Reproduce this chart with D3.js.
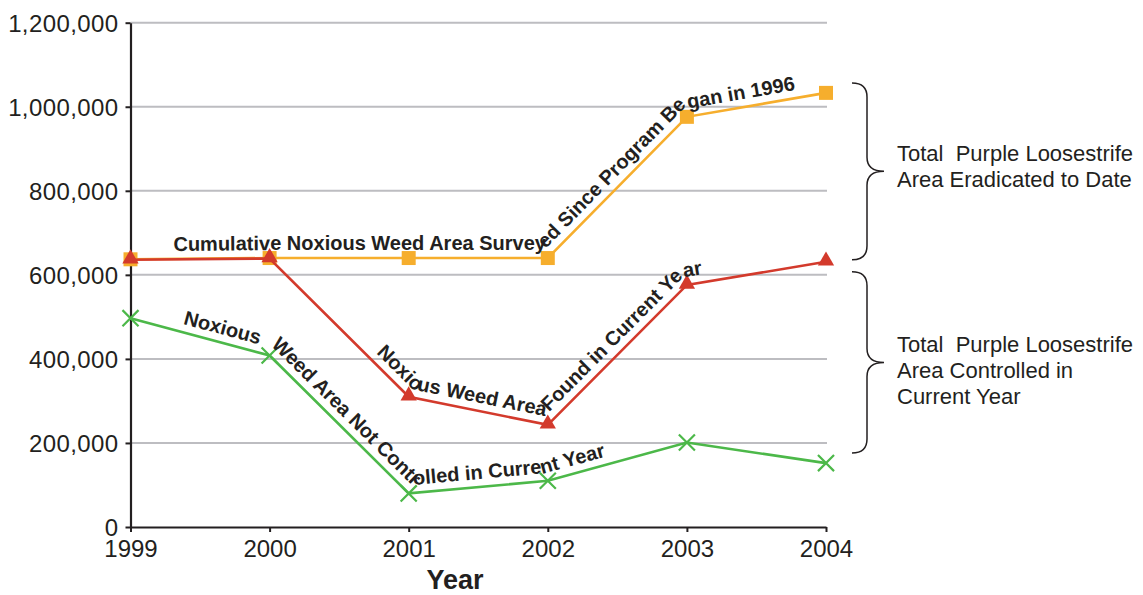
<!DOCTYPE html>
<html>
<head>
<meta charset="utf-8">
<script src="https://cdn.jsdelivr.net/npm/d3@7"></script>
<style>
  html, body { margin: 0; padding: 0; background: #fff; }
  svg { display: block; font-family: "Liberation Sans", Arial, Helvetica, sans-serif; }
</style>
</head>
<body>
<svg id="chart" width="1143" height="595"></svg>
<script>
// Survey years
const years = [1999, 2000, 2001, 2002, 2003, 2004];

// Cumulative noxious weed area surveyed since 1996
const surveyedCumulative = [637000, 640000, 640000, 640000, 976000, 1033000];
// Noxious weed area found in the current year
const foundCurrentYear = [636000, 639000, 310000, 243000, 576000, 631000];
// Noxious weed area not controlled in the current year
const notControlled = [497000, 408000, 80000, 110000, 201000, 152000];

const yTicks = [0, 200000, 400000, 600000, 800000, 1000000, 1200000];

const surveyedLabel = "Cumulative Noxious Weed Area Surveyed Since Program Began in 1996";
const foundLabel = "Noxious Weed Area Found in Current Year";
const notControlledLabel = "Noxious  Weed Area Not Controlled in Current Year";

const braceLabels = [
  ["Total  Purple Loosestrife", "Area Eradicated to Date"],
  ["Total  Purple Loosestrife", "Area Controlled in", "Current Year"]
];

const ink = "#231f20";
const colors = { surveyed: "#f6ae2d", found: "#d33a2c", notControlled: "#4cb849" };

const svg = d3.select("#chart");
svg.append("rect").attr("width", 1143).attr("height", 595).attr("fill", "#fff");

const x = d3.scaleLinear().domain([1999, 2004]).range([130.5, 826]);
const y = d3.scaleLinear().domain([0, 1200000]).range([527, 22.7]);

// Horizontal gridlines
svg.append("g")
  .selectAll("line")
  .data(yTicks.filter(d => d > 0))
  .join("line")
  .attr("x1", x(1999)).attr("x2", x(2004) + 1)
  .attr("y1", d => y(d)).attr("y2", d => y(d))
  .attr("stroke", "#bdbdc1").attr("stroke-width", 2);

// Axes
const yAxis = svg.append("g")
  .attr("transform", `translate(${x(1999)},0)`)
  .call(d3.axisLeft(y).tickValues(yTicks).tickSize(5).tickSizeOuter(0).tickPadding(7)
    .tickFormat(d3.format(",")));
const xAxis = svg.append("g")
  .attr("transform", `translate(0,${y(0)})`)
  .call(d3.axisBottom(x).tickValues(years).tickSize(5).tickSizeOuter(0).tickPadding(8)
    .tickFormat(d3.format("d")));

[yAxis, xAxis].forEach(g => {
  g.select(".domain").attr("stroke", ink).attr("stroke-width", 2.2);
  g.selectAll(".tick line").attr("stroke", ink).attr("stroke-width", 2);
  g.selectAll(".tick text").attr("fill", ink).style("font-size", "24px")
    .style("font-family", "'Liberation Sans', Arial, sans-serif");
});
yAxis.selectAll(".tick text").attr("dy", "0.36em").style("letter-spacing", "0.4px");

svg.append("text")
  .attr("x", 455).attr("y", 589)
  .attr("text-anchor", "middle")
  .attr("fill", ink)
  .style("font-size", "27px").style("font-weight", "bold")
  .text("Year");

// Series lines with markers
const pts = values => values.map((v, i) => [x(years[i]), y(v)]);

// Polyline shifted to the upper side of each segment, mitred at the joints,
// used as the baseline for the labels that run along each line.
function offsetPolyline(points, d) {
  const normals = [];
  for (let i = 0; i < points.length - 1; i++) {
    const dx = points[i + 1][0] - points[i][0], dy = points[i + 1][1] - points[i][1];
    const len = Math.hypot(dx, dy);
    normals.push([dy / len, -dx / len]);
  }
  return points.map((p, i) => {
    if (i === 0) return [p[0] + d * normals[0][0], p[1] + d * normals[0][1]];
    if (i === points.length - 1) {
      const n = normals[normals.length - 1];
      return [p[0] + d * n[0], p[1] + d * n[1]];
    }
    const a = normals[i - 1], b = normals[i];
    const k = d / (1 + a[0] * b[0] + a[1] * b[1]);
    return [p[0] + k * (a[0] + b[0]), p[1] + k * (a[1] + b[1])];
  });
}

const series = [
  { id: "surveyed", values: surveyedCumulative, color: colors.surveyed, marker: "square",
    label: surveyedLabel, offset: 43 },
  { id: "found", values: foundCurrentYear, color: colors.found, marker: "triangle",
    label: foundLabel, offset: 288 },
  { id: "notControlled", values: notControlled, color: colors.notControlled, marker: "cross",
    label: notControlledLabel, offset: 52 }
];

const line = d3.line();

series.forEach(s => {
  svg.append("path")
    .attr("d", line(pts(s.values)))
    .attr("fill", "none")
    .attr("stroke", s.color)
    .attr("stroke-width", 2.6);

  const symbolType = s.marker === "square" ? d3.symbolSquare
    : s.marker === "triangle" ? d3.symbolTriangle : d3.symbolX;
  const size = s.marker === "square" ? 196 : s.marker === "triangle" ? 115 : 170;
  svg.append("g")
    .selectAll("path")
    .data(s.values)
    .join("path")
    .attr("transform", (d, i) => `translate(${x(years[i])},${y(d) + (s.marker === "triangle" ? -1 : 0)})`)
    .attr("d", d3.symbol().type(symbolType).size(size))
    .attr("fill", s.marker === "cross" ? "none" : s.color)
    .attr("stroke", s.marker === "cross" ? s.color : "none")
    .attr("stroke-width", 2.2);

  svg.append("path")
    .attr("id", "label-path-" + s.id)
    .attr("d", line(offsetPolyline(pts(s.values), 8)))
    .attr("fill", "none")
    .attr("stroke", "none");
});

series.forEach(s => {
  svg.append("text")
    .attr("fill", ink)
    .style("font-size", "20px").style("font-weight", "bold")
    .style("white-space", "pre")
    .append("textPath")
    .attr("href", "#label-path-" + s.id)
    .attr("startOffset", s.offset)
    .text(s.label);
});

// Braces summarising the differences in the final year
const last = years.length - 1;
const braces = [
  { top: y(surveyedCumulative[last]) - 10, bottom: y(foundCurrentYear[last]) - 2, lines: braceLabels[0] },
  { top: y(foundCurrentYear[last]) + 10, bottom: y(notControlled[last]) - 10, lines: braceLabels[1] }
];

const xl = 852, xb = 867, xt = 884, r = 14;
braces.forEach(b => {
  const m = (b.top + b.bottom) / 2;
  const p = d3.path();
  p.moveTo(xl, b.top);
  p.quadraticCurveTo(xb, b.top, xb, b.top + r);
  p.lineTo(xb, m - r);
  p.quadraticCurveTo(xb, m, xt, m);
  p.quadraticCurveTo(xb, m, xb, m + r);
  p.lineTo(xb, b.bottom - r);
  p.quadraticCurveTo(xb, b.bottom, xl, b.bottom);
  svg.append("path").attr("d", p.toString())
    .attr("fill", "none").attr("stroke", ink).attr("stroke-width", 1.5);

  const lh = 26;
  svg.append("text")
    .attr("fill", ink)
    .style("font-size", "22px")
    .style("white-space", "pre")
    .selectAll("tspan")
    .data(b.lines)
    .join("tspan")
    .attr("x", 897)
    .attr("y", (d, i) => m - 10 + i * lh)
    .text(d => d);
});
</script>
</body>
</html>
